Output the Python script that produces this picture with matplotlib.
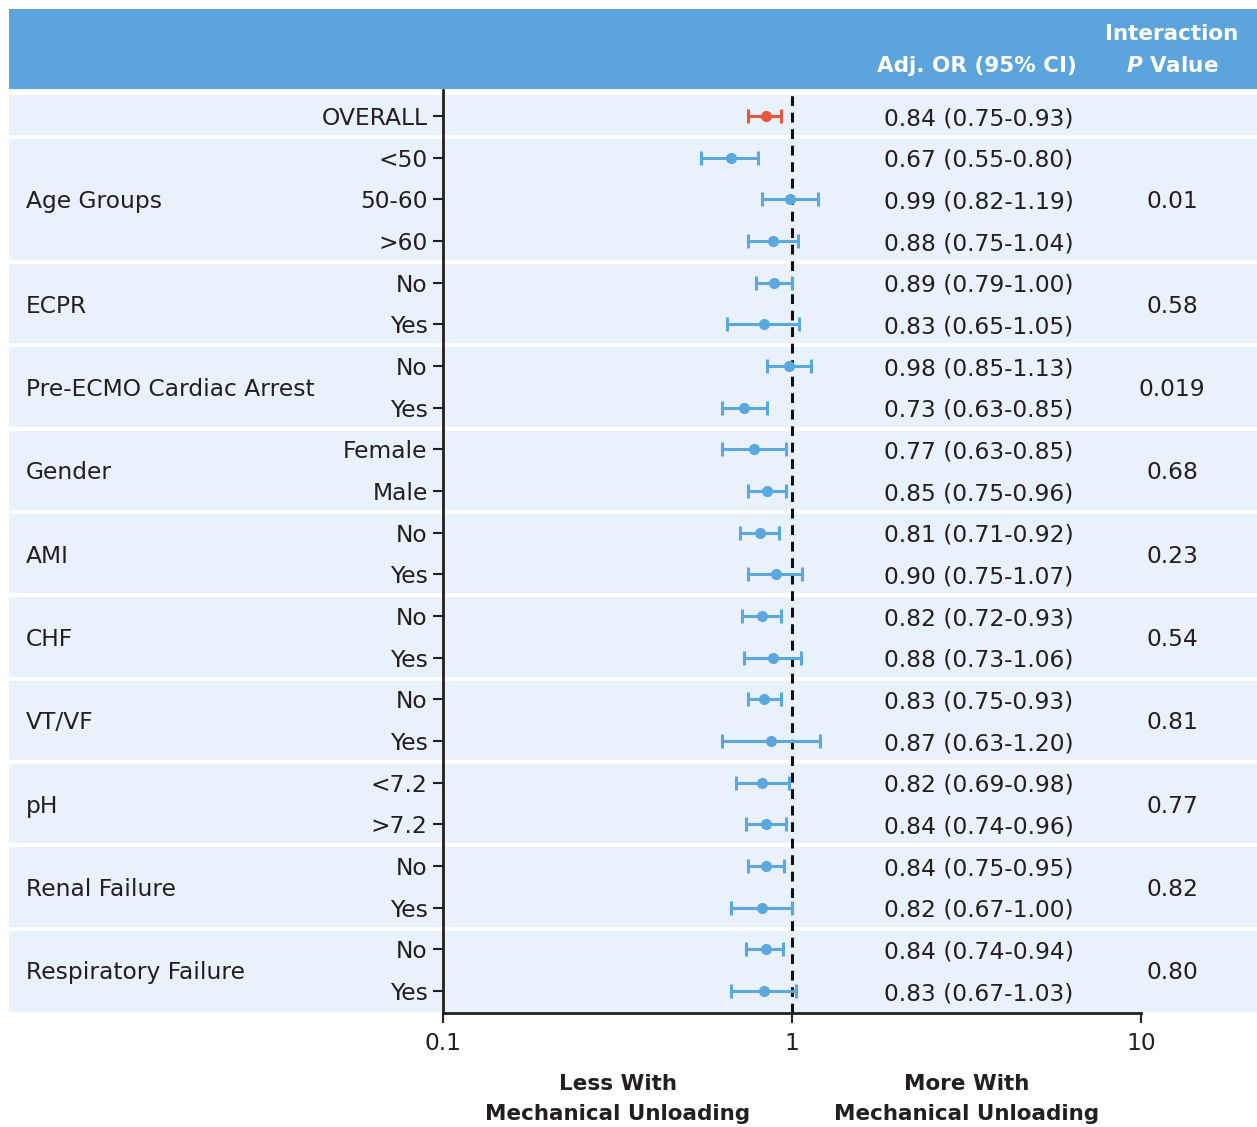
import numpy as np
import matplotlib
matplotlib.use("Agg")
import matplotlib.pyplot as plt
from matplotlib.patches import Rectangle
from matplotlib.transforms import blended_transform_factory

plt.rcParams["font.family"] = ["DejaVu Sans"]
plt.rcParams["mathtext.fontset"] = "dejavusans"

# ---- data ----
groups = ["", "Age Groups", "ECPR", "Pre-ECMO Cardiac Arrest", "Gender", "AMI",
          "CHF", "VT/VF", "pH", "Renal Failure", "Respiratory Failure"]
subgroups = [["OVERALL"], ["<50", "50-60", ">60"], ["No", "Yes"], ["No", "Yes"],
             ["Female", "Male"], ["No", "Yes"], ["No", "Yes"], ["No", "Yes"],
             ["<7.2", ">7.2"], ["No", "Yes"], ["No", "Yes"]]
odds = [0.84, 0.67, 0.99, 0.88, 0.89, 0.83, 0.98, 0.73, 0.78, 0.85, 0.81, 0.90,
        0.82, 0.88, 0.83, 0.87, 0.82, 0.84, 0.84, 0.82, 0.84, 0.83]
ci_lo = [0.75, 0.55, 0.82, 0.75, 0.79, 0.65, 0.85, 0.63, 0.63, 0.75, 0.71, 0.75,
         0.72, 0.73, 0.75, 0.63, 0.69, 0.74, 0.75, 0.67, 0.74, 0.67]
ci_hi = [0.93, 0.80, 1.19, 1.04, 1.00, 1.05, 1.13, 0.85, 0.96, 0.96, 0.92, 1.07,
         0.93, 1.06, 0.93, 1.20, 0.98, 0.96, 0.95, 1.00, 0.94, 1.03]
or_text = ["0.84 (0.75-0.93)", "0.67 (0.55-0.80)", "0.99 (0.82-1.19)", "0.88 (0.75-1.04)",
           "0.89 (0.79-1.00)", "0.83 (0.65-1.05)", "0.98 (0.85-1.13)", "0.73 (0.63-0.85)",
           "0.77 (0.63-0.85)", "0.85 (0.75-0.96)", "0.81 (0.71-0.92)", "0.90 (0.75-1.07)",
           "0.82 (0.72-0.93)", "0.88 (0.73-1.06)", "0.83 (0.75-0.93)", "0.87 (0.63-1.20)",
           "0.82 (0.69-0.98)", "0.84 (0.74-0.96)", "0.84 (0.75-0.95)", "0.82 (0.67-1.00)",
           "0.84 (0.74-0.94)", "0.83 (0.67-1.03)"]
p_values = ["", "0.01", "0.58", "0.019", "0.68", "0.23", "0.54", "0.81", "0.77", "0.82", "0.80"]

HEADER = "#5ba5dc"
BAND = "#e9f1fa"
BLUE = "#5aa8de"
RED = "#e8563f"
TXT = "#231f20"
FS = 16.8    # regular text
FSB = 15.5   # bold text

W, H = 1257, 1127
fig = plt.figure(figsize=(W / 100, H / 100), dpi=100)
# axes placed in pixel coords: x 443..1141, y 90..1013
ax = fig.add_axes([443 / W, 1 - 1013 / H, (1141 - 443) / W, (1013 - 90) / H])
ax.set_facecolor("none")
ax.set_xscale("log")
ax.set_xlim(0.1, 10)
row_h = 41.67
ax.set_ylim((1013 - 116) / row_h, (90 - 116) / row_h)

n = len(odds)
ys = np.arange(n)
colors = [RED] + [BLUE] * (n - 1)
for y, o, lo, hi, c in zip(ys, odds, ci_lo, ci_hi, colors):
    ax.errorbar(o, y, xerr=[[o - lo], [hi - o]], fmt="o", color=c, ms=7,
                elinewidth=2.2, capsize=5, capthick=2.2, zorder=3)

ax.axvline(1, color="#111111", lw=2.2, ls=(0, (3.2, 2.2)), zorder=2)

# backgrounds across full width
tr = blended_transform_factory(fig.transFigure, ax.transData)
start = 0
bounds = []
for subs in subgroups:
    bounds.append((start, start + len(subs) - 1))
    start += len(subs)
ax.add_patch(Rectangle((9 / W, bounds[0][0] - 0.5), 1 - 9 / W, n, transform=tr,
                       facecolor=BAND, edgecolor="none", clip_on=False, zorder=0))
for a, b in bounds[1:]:
    ax.plot([9 / W, 1], [a - 0.5, a - 0.5], transform=tr, color="white", lw=3,
            clip_on=False, zorder=0.5)
fig.patches.append(Rectangle((9 / W, 1 - 89 / H), 1 - 9 / W, 80 / H,
                             transform=fig.transFigure, facecolor=HEADER,
                             edgecolor="none", zorder=0))

# ticks / labels
labels = [s for subs in subgroups for s in subs]
ax.set_yticks(ys)
ax.set_yticklabels(labels, fontsize=FS, color=TXT, va="center_baseline")
ax.tick_params(axis="y", length=7, width=1.5, pad=4, colors="#231f20")
ax.set_xticks([0.1, 1, 10])
ax.set_xticklabels(["0.1", "1", "10"], fontsize=FS, color=TXT)
ax.xaxis.set_minor_locator(matplotlib.ticker.NullLocator())
ax.tick_params(axis="x", length=7, width=1.5, pad=7, colors="#231f20")
for s in ["top", "right"]:
    ax.spines[s].set_visible(False)
for s in ["left", "bottom"]:
    ax.spines[s].set_linewidth(2)
    ax.spines[s].set_color("#231f20")


def fx(px):
    return px / W


def fy(py):
    return 1 - py / H


for (a, b), g, p in zip(bounds, groups, p_values):
    mid = (a + b) / 2
    if g:
        ax.text(fx(26), mid, g, transform=tr, ha="left", va="center_baseline",
                fontsize=FS, color=TXT)
    if p:
        ax.text(fx(1172), mid, p, transform=tr, ha="center", va="center_baseline",
                fontsize=FS, color=TXT)
for y, t in zip(ys, or_text):
    ax.text(fx(979), y, t, transform=tr, ha="center", va="center_baseline",
            fontsize=FS, color=TXT)

# header text
fig.text(fx(977), fy(64), "Adj. OR (95% CI)", ha="center", va="center_baseline",
         fontsize=FSB, color="white", fontweight="bold")
fig.text(fx(1172), fy(32), "Interaction", ha="center", va="center_baseline",
         fontsize=FSB, color="white", fontweight="bold")
fig.text(fx(1172), fy(64), r"$\boldsymbol{P}$ Value", ha="center", va="center_baseline",
         fontsize=FSB, color="white", fontweight="bold")

# bottom direction labels
for xc, first in [(618, "Less With"), (967, "More With")]:
    fig.text(fx(xc), fy(1082), first, ha="center", va="center_baseline",
             fontsize=FSB, color=TXT, fontweight="bold")
    fig.text(fx(xc), fy(1112), "Mechanical Unloading", ha="center",
             va="center_baseline", fontsize=FSB, color=TXT, fontweight="bold")

fig.savefig("out.png", dpi=100)
